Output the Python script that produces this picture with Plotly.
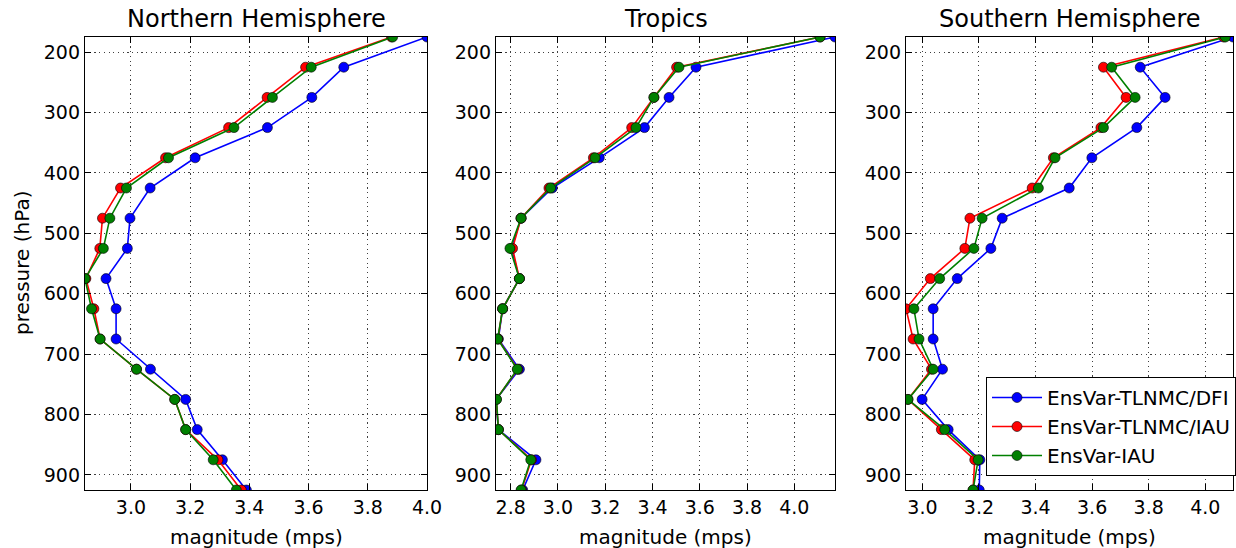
import plotly.graph_objects as go

W, H = 1236, 548

levels = [175, 225, 275, 325, 375, 425, 475, 525, 575, 625, 675, 725, 775, 825, 875, 925]

series_names = ["EnsVar-TLNMC/DFI", "EnsVar-TLNMC/IAU", "EnsVar-IAU"]
series_colors = ["#0000ff", "#ff0000", "#008000"]

# Northern Hemisphere
nh_dfi = [4.000, 3.719, 3.611, 3.461, 3.217, 3.065, 2.997, 2.988, 2.916, 2.950, 2.950, 3.066, 3.185, 3.224, 3.309, 3.390]
nh_tlnmc_iau = [3.880, 3.590, 3.460, 3.330, 3.117, 2.965, 2.904, 2.895, 2.848, 2.875, 2.896, 3.019, 3.148, 3.185, 3.294, 3.373]
nh_iau = [3.884, 3.609, 3.478, 3.348, 3.127, 2.985, 2.929, 2.907, 2.845, 2.867, 2.896, 3.019, 3.148, 3.185, 3.278, 3.356]

# Tropics
tr_dfi = [4.172, 3.584, 3.470, 3.366, 3.175, 2.976, 2.844, 2.803, 2.837, 2.766, 2.748, 2.837, 2.738, 2.748, 2.907, 2.851]
tr_tlnmc_iau = [4.109, 3.502, 3.406, 3.312, 3.150, 2.962, 2.844, 2.808, 2.837, 2.766, 2.746, 2.830, 2.739, 2.748, 2.888, 2.846]
tr_iau = [4.109, 3.512, 3.406, 3.330, 3.157, 2.969, 2.844, 2.797, 2.837, 2.766, 2.745, 2.828, 2.740, 2.748, 2.885, 2.844]

# Southern Hemisphere
sh_dfi = [4.098, 3.770, 3.858, 3.758, 3.599, 3.519, 3.282, 3.242, 3.123, 3.038, 3.038, 3.071, 2.999, 3.091, 3.203, 3.201]
sh_tlnmc_iau = [4.065, 3.640, 3.720, 3.631, 3.463, 3.388, 3.168, 3.150, 3.028, 2.942, 2.967, 3.032, 2.949, 3.067, 3.185, 3.179]
sh_iau = [4.071, 3.669, 3.752, 3.640, 3.469, 3.410, 3.211, 3.182, 3.061, 2.970, 2.988, 3.038, 2.949, 3.079, 3.197, 3.179]

panels = [
    ("Northern Hemisphere", [nh_dfi, nh_tlnmc_iau, nh_iau], [3.0, 3.2, 3.4, 3.6, 3.8, 4.0]),
    ("Tropics", [tr_dfi, tr_tlnmc_iau, tr_iau], [2.8, 3.0, 3.2, 3.4, 3.6, 3.8, 4.0]),
    ("Southern Hemisphere", [sh_dfi, sh_tlnmc_iau, sh_iau], [3.0, 3.2, 3.4, 3.6, 3.8, 4.0]),
]
y_ticks = [200, 300, 400, 500, 600, 700, 800, 900]

FONT = "DejaVu Sans"

# pixel layout of the three axes boxes
x_px = [(85, 427), (496, 835), (906, 1233)]
y_top, y_bot = 37, 490

fig = go.Figure()
layout = dict(
    width=W, height=H,
    margin=dict(l=0, r=0, t=0, b=0),
    paper_bgcolor="white", plot_bgcolor="white",
    font=dict(family=FONT, size=19, color="black"),
    showlegend=True,
    annotations=[],
)

for i, (title, data, xt) in enumerate(panels):
    ax = "" if i == 0 else str(i + 1)
    for j, vals in enumerate(data):
        fig.add_trace(go.Scatter(
            x=vals, y=levels, mode="lines+markers",
            name=series_names[j],
            line=dict(color=series_colors[j], width=1.6),
            marker=dict(color=series_colors[j], size=10,
                        line=dict(color="rgba(0,0,0,0.75)", width=0.8)),
            xaxis="x" + ax, yaxis="y" + ax,
            showlegend=(i == 2), legendrank=j,
            cliponaxis=True,
        ))
    allv = [v for s in data for v in s]
    x0, x1 = x_px[i]
    dom_x = [x0 / W, x1 / W]
    dom_y = [1 - y_bot / H, 1 - y_top / H]
    common = dict(
        showline=True, linecolor="black", linewidth=1.3, mirror="ticks",
        ticks="inside", ticklen=6, tickcolor="black", tickwidth=1,
        showgrid=True, gridcolor="rgba(0,0,0,0.75)", gridwidth=1, griddash="1.2px,3.5px",
        zeroline=False, automargin=False,
        tickfont=dict(family=FONT, size=19, color="black"),
    )
    layout["xaxis" + ax] = dict(
        domain=dom_x, range=[min(allv), max(allv)],
        tickvals=xt, ticktext=["%.1f" % v for v in xt],
        anchor="y" + ax, **common)
    layout["yaxis" + ax] = dict(
        domain=dom_y, range=[925, 175],
        tickvals=y_ticks, ticktext=[str(v) for v in y_ticks],
        showticklabels=True,
        anchor="x" + ax, **common)
    xc = (x0 + x1) / 2 / W
    layout["annotations"].append(dict(
        text=title, x=xc, y=1 - 19 / H, xref="paper", yref="paper",
        xanchor="center", yanchor="middle", showarrow=False,
        font=dict(family=FONT, size=24, color="black")))
    layout["annotations"].append(dict(
        text="magnitude (mps)", x=xc, y=1 - 537 / H, xref="paper", yref="paper",
        xanchor="center", yanchor="middle", showarrow=False,
        font=dict(family=FONT, size=20, color="black")))

layout["annotations"].append(dict(
    text="pressure (hPa)", x=22 / W, y=1 - 263 / H, xref="paper", yref="paper",
    xanchor="center", yanchor="middle", showarrow=False, textangle=-90,
    font=dict(family=FONT, size=20, color="black")))

layout["legend"] = dict(
    x=986 / W, y=1 - 377 / H, xanchor="left", yanchor="top",
    bgcolor="white", bordercolor="black", borderwidth=1,
    font=dict(family=FONT, size=20, color="black"),
    itemwidth=50, tracegroupgap=0,
)

fig.update_layout(**layout)
fig.write_html("out.html")
